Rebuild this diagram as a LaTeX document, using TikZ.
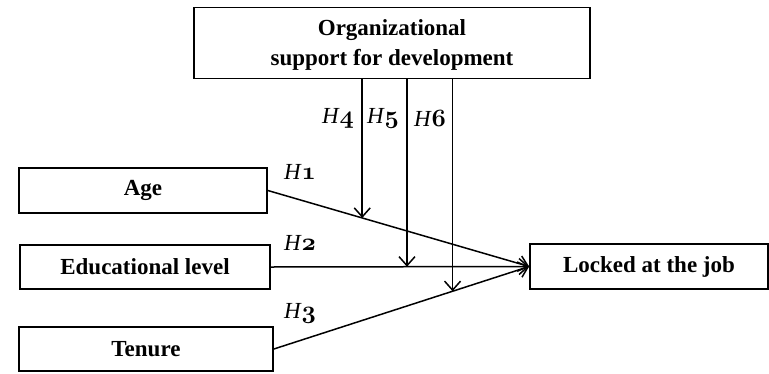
\documentclass[tikz,border=0pt]{standalone}
\usepackage{fontspec}
\setmainfont{Liberation Serif}
\usetikzlibrary{arrows.meta,calc}
\newcommand{\osn}[1]{{\fontencoding{OML}\fontfamily{cmm}\fontseries{b}\fontshape{it}\selectfont #1}}
\newcommand{\hyp}[1]{\textit{H}\osn{#1}}
\tikzset{
  box/.style={draw, line width=1.7pt, fill=white, font=\fontsize{23}{30}\selectfont\bfseries, align=center, inner sep=0pt},
  conn/.style={line width=1.5pt, -{Straight Barb[length=9pt,width=16pt,line width=1.5pt]}},
  hlab/.style={font=\fontsize{23}{25}\selectfont, inner sep=0pt}
}
\begin{document}
\begin{tikzpicture}[x=1pt,y=-1pt]
\useasboundingbox (0,0) rectangle (769,373);
\node[box, minimum width=396pt, minimum height=71pt] (top) at (392,43) {\rule{0pt}{19pt}Organizational\\support for development};
\node[box, minimum width=248pt, minimum height=45pt] (age) at (143,190.5) {Age};
\node[box, minimum width=250pt, minimum height=44pt] (edu) at (145,267) {Educational level};
\node[box, minimum width=254pt, minimum height=44pt] (ten) at (146,349) {Tenure};
\node[box, minimum width=238pt, minimum height=45pt] (lock) at (649,266.5) {Locked at the job};
\draw[conn] (age.east) -- (lock.west);
\draw[conn] (edu.east) -- (lock.west);
\draw[conn] (ten.east) -- (lock.west);
\coordinate (p4) at ($(age.east)!0.3612!(lock.west)$);
\coordinate (p5) at ($(edu.east)!0.527!(lock.west)$);
\coordinate (p6) at ($(ten.east)!0.700!(lock.west)$);
\draw[conn] (top.south -| p4) -- (p4);
\draw[conn] (top.south -| p5) -- (p5);
\draw[conn] (top.south -| p6) -- (p6);
\node[hlab] (h1) at (300,172) {\hyp{1}};
\node[hlab] (h2) at (300,243) {\hyp{2}};
\node[hlab] (h3) at (300,313) {\hyp{3}};
\node[hlab] (h4) at (338,118) {\hyp{4}};
\node[hlab] (h5) at (383,118) {\hyp{5}};
\node[hlab] (h6) at (430,118) {\hyp{6}};
\end{tikzpicture}
\end{document}
